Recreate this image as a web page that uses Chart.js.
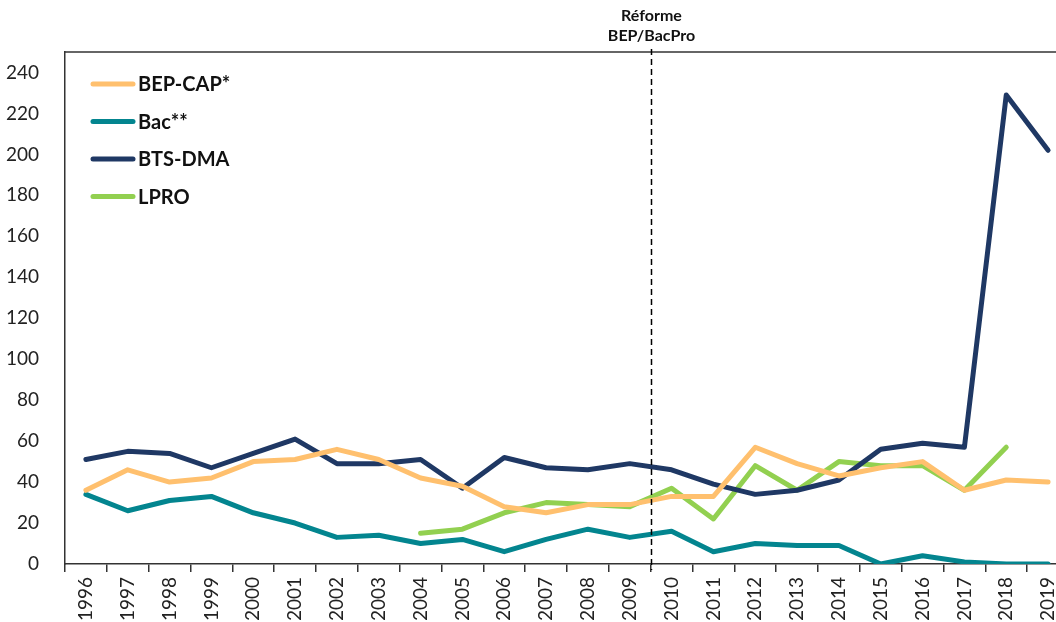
<!DOCTYPE html>
<html>
<head>
<meta charset="utf-8">
<script src="https://cdn.jsdelivr.net/npm/chart.js@4"></script>
<style>
  html, body { margin: 0; padding: 0; background: #fff; overflow: hidden; }
  #wrap { width: 1080px; height: 640px; }
</style>
</head>
<body>
<div id="wrap"><canvas id="reformeChart" width="1080" height="640"></canvas></div>
<script>
// categories and series
var years = ["1996", "1997", "1998", "1999", "2000", "2001", "2002", "2003", "2004", "2005", "2006", "2007",
             "2008", "2009", "2010", "2011", "2012", "2013", "2014", "2015", "2016", "2017", "2018", "2019"];
var bepCap = [36, 46, 40, 42, 50, 51, 56, 51, 42, 38, 28, 25, 29, 29, 33, 33, 57, 49, 43, 47, 50, 36, 41, 40];
var bac = [34, 26, 31, 33, 25, 20, 13, 14, 10, 12, 6, 12, 17, 13, 16, 6, 10, 9, 9, 0, 4, 1, 0, 0];
var btsDma = [51, 55, 54, 47, 54, 61, 49, 49, 51, 37, 52, 47, 46, 49, 46, 39, 34, 36, 41, 56, 59, 57, 229, 202];
var lpro = [null, null, null, null, null, null, null, null, 15, 17, 25, 30, 29, 28, 37, 22, 48, 36, 50, 48, 48, 36, 57, null];
var seriesNames = ["BEP-CAP*", "Bac**", "BTS-DMA", "LPRO"];
var seriesColors = ["#FFC06E", "#03858F", "#1F3864", "#92D050"];
var reformeAt = 13.5; // between 2009 and 2010
var reformeText = ["Réforme", "BEP/BacPro"];

var tickFont = { family: "Lato", size: 19 };

function makeDataset(i, values) {
    return {
        label: seriesNames[i],
        data: values,
        borderColor: seriesColors[i],
        backgroundColor: seriesColors[i],
        borderWidth: 5,
        pointRadius: 0,
        tension: 0,
        spanGaps: false,
        borderCapStyle: 'round',
        borderJoinStyle: 'round'
    };
}

// legend inside the plot, top-left, plus frame line and reform marker
var extras = {
    id: 'extras',
    afterDatasetsDraw: function (chart) {
        var ctx = chart.ctx;
        var area = chart.chartArea;
        var x = chart.scales.x;

        ctx.save();
        // top frame line
        ctx.strokeStyle = '#333';
        ctx.lineWidth = 1.5;
        ctx.beginPath();
        ctx.moveTo(area.left, area.top);
        ctx.lineTo(area.right, area.top);
        ctx.stroke();

        // reform marker
        var px = Math.round(x.getPixelForValue(reformeAt)) + 0.5;
        ctx.setLineDash([6, 4]);
        ctx.strokeStyle = '#000';
        ctx.lineWidth = 1.5;
        ctx.beginPath();
        ctx.moveTo(px, area.top - 3);
        ctx.lineTo(px, area.bottom + 6);
        ctx.stroke();
        ctx.setLineDash([]);

        ctx.fillStyle = '#111';
        ctx.font = 'bold 16px Lato';
        ctx.textAlign = 'center';
        ctx.textBaseline = 'middle';
        ctx.fillText(reformeText[0], px, 16);
        ctx.fillText(reformeText[1], px, 36);

        // legend
        var ds = chart.data.datasets;
        ctx.textAlign = 'left';
        ctx.font = 'bold 20px Lato';
        for (var i = 0; i < ds.length; i++) {
            var y = 84 + i * 37.5;
            ctx.strokeStyle = ds[i].borderColor;
            ctx.lineWidth = 5;
            ctx.lineCap = 'round';
            ctx.beginPath();
            ctx.moveTo(93, y);
            ctx.lineTo(133, y);
            ctx.stroke();
            ctx.fillStyle = '#111';
            ctx.fillText(ds[i].label, 138, y + 1);
        }
        ctx.restore();
    }
};

new Chart("reformeChart", {
    type: "line",
    data: {
        labels: years,
        datasets: [
            makeDataset(0, bepCap),
            makeDataset(1, bac),
            makeDataset(2, btsDma),
            makeDataset(3, lpro)
        ]
    },
    options: {
        responsive: false,
        animation: false,
        layout: {
            padding: { top: 52, right: 11, left: 0, bottom: 0 }
        },
        plugins: {
            legend: { display: false },
            tooltip: { enabled: false }
        },
        scales: {
            y: {
                min: 0,
                max: 250,
                afterFit: function (scale) { scale.width = 65; },
                ticks: {
                    stepSize: 20,
                    includeBounds: false,
                    color: '#222',
                    padding: 18,
                    font: tickFont
                },
                grid: { display: false },
                border: { display: true, color: '#333', width: 1.5 }
            },
            x: {
                offset: true,
                afterFit: function (scale) { scale.height = 76; },
                ticks: {
                    minRotation: 90,
                    maxRotation: 90,
                    autoSkip: false,
                    color: '#222',
                    padding: 5,
                    font: tickFont
                },
                grid: {
                    display: true,
                    offset: true,
                    drawOnChartArea: false,
                    drawTicks: true,
                    tickLength: 8,
                    color: '#333',
                    lineWidth: 1.5
                },
                border: { display: true, color: '#333', width: 1.5 }
            }
        }
    },
    plugins: [extras]
});
</script>
</body>
</html>
